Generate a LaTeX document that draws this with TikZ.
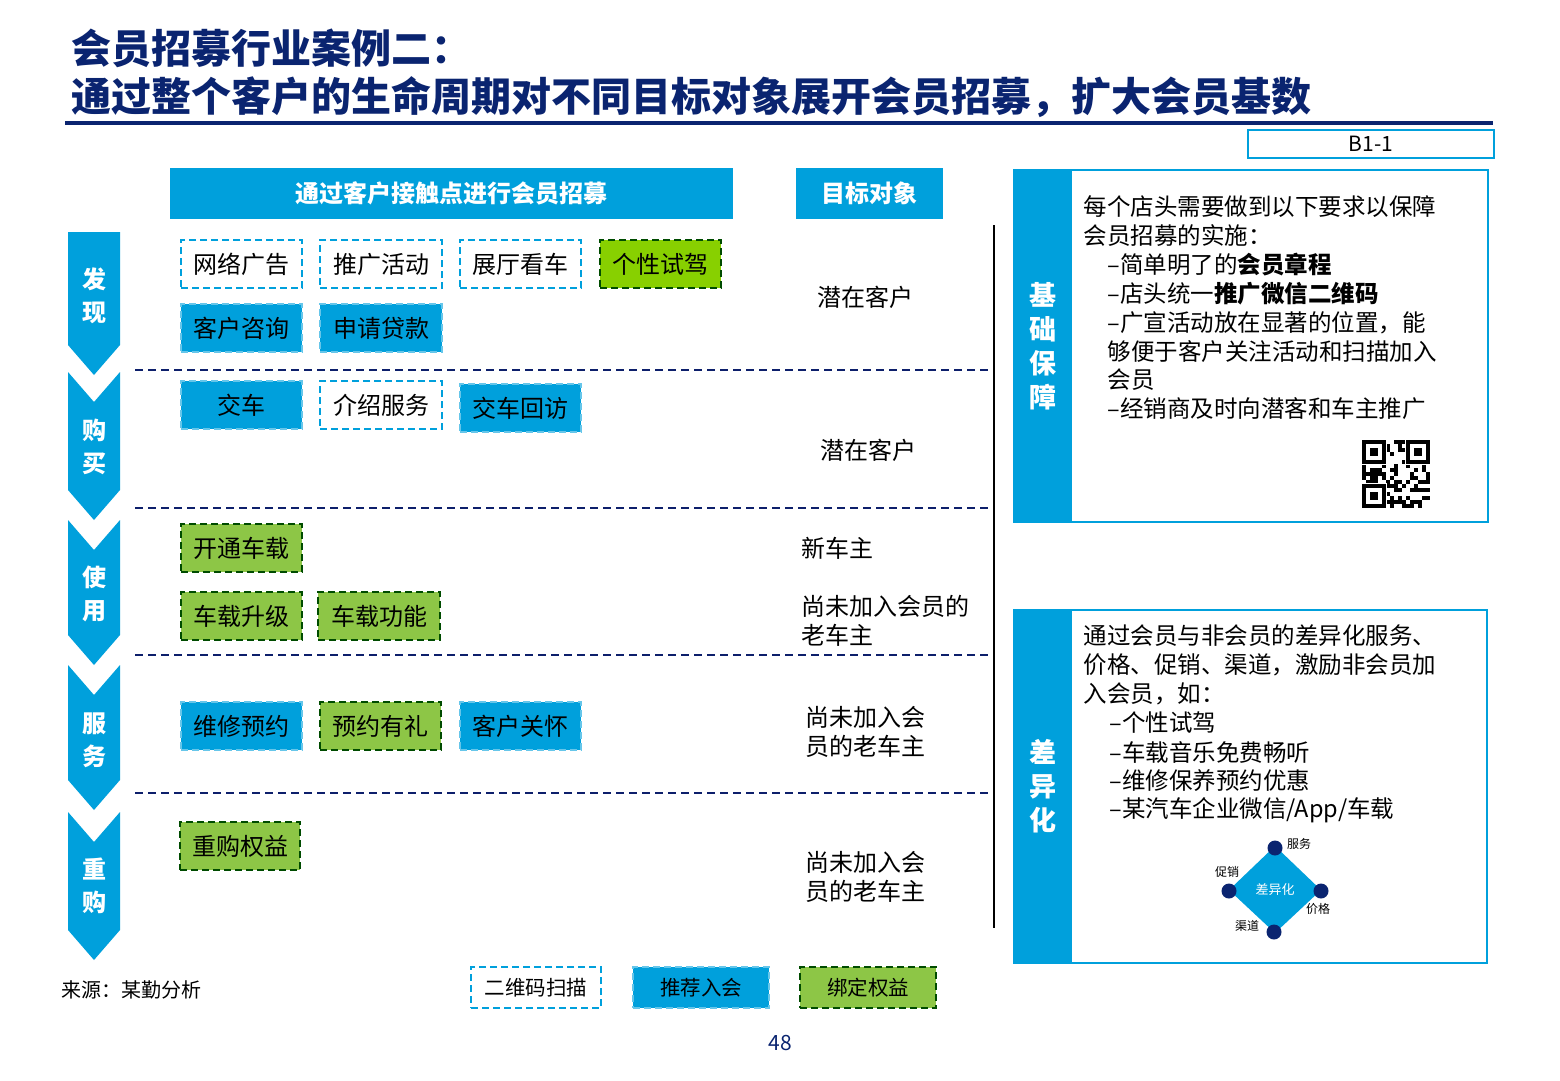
\documentclass[tikz,border=0pt]{standalone}
\usepackage{fontspec}
\setmainfont{Noto Sans CJK SC}
\begin{document}
\begin{tikzpicture}[x=1pt,y=-1pt,
  dsh/.style={dash pattern=on 7pt off 4pt},
  bl/.style={fill=cblue,draw=cblue!60!white,dsh,line width=1.3pt},
  wh/.style={draw=cblue,dsh,line width=1.3pt,fill=white},
  gr/.style={fill=cgreen,draw=green!30!black,dsh,line width=1.3pt},
  gr2/.style={fill=cgreen2,draw=green!30!black,dsh,line width=1.3pt},
  sep/.style={draw=cnavy,dash pattern=on 8pt off 5pt,line width=1.4pt},
  bt/.style={font=\fontsize{24}{28}\selectfont,text=black},
  tt/.style={font=\fontsize{24}{29}\selectfont,anchor=west,text=black},
  pt/.style={font=\fontsize{23.5}{27}\selectfont,anchor=west,text=black},
  side/.style={font=\bfseries\fontsize{24}{33}\selectfont,text=white,align=center}]
\definecolor{cblue}{HTML}{00A0DC}
\definecolor{cnavy}{HTML}{0D1F6B}
\definecolor{cgreen}{HTML}{8DC646}
\definecolor{cgreen2}{HTML}{88D000}
\definecolor{dnavy}{HTML}{0A2470}
\useasboundingbox (0,0) rectangle (1560,1080);
\fill[white] (0,0) rectangle (1560,1080);
% title
\node[anchor=west,text=dnavy,font=\bfseries\fontsize{40}{44}\selectfont] (t1) at (68,48) {会员招募行业案例二：};
\node[anchor=west,text=dnavy,font=\bfseries\fontsize{40}{44}\selectfont] (t2) at (68,97) {通过整个客户的生命周期对不同目标对象展开会员招募，扩大会员基数};
\draw[dnavy,line width=4pt] (65,123) -- (1493,123);
\node[draw=cblue,line width=2pt,minimum width=246pt,minimum height=28pt,inner sep=0,font=\fontsize{21}{22}\selectfont] (b11) at (1371,144) {B1-1};
% headers
\node[fill=cblue,minimum width=563pt,minimum height=51pt,text=white,font=\bfseries\fontsize{24}{28}\selectfont] (h1) at (451.5,193.5) {通过客户接触点进行会员招募};
\node[fill=cblue,minimum width=147pt,minimum height=51pt,text=white,font=\bfseries\fontsize{24}{28}\selectfont] (h2) at (869.5,193.5) {目标对象};
% chevrons
\fill[cblue] (68,232) -- (120,232) -- (120,345) -- (94,375) -- (68,345) -- cycle;
\foreach \a/\b in {372/520, 520/665, 665/810, 812/960}{
  \fill[cblue] (68,\a) -- (94,\a+30) -- (120,\a) -- (120,\b-30) -- (94,\b) -- (68,\b-30) -- cycle;}
\node[side] (s1) at (94,296) {发\\现};
\node[side] (s2) at (94,447) {购\\买};
\node[side] (s3) at (94,594) {使\\用};
\node[side] (s4) at (94,740) {服\\务};
\node[side] (s5) at (94,886) {重\\购};
% separators
\foreach \y in {370,508,655,793} \draw[sep] (135,\y) -- (993,\y);
\draw[black,line width=1.5pt] (994,225) -- (994,928);
% boxes
\newcommand{\bx}[6]{\node[#1,minimum width=#4pt,minimum height=48pt,inner sep=0,bt] (#6) at (#2,#3) {#5};}
\bx{wh}{241.5}{264}{121}{网络广告}{n1}
\bx{wh}{381}{264}{122}{推广活动}{n2}
\bx{wh}{520.5}{264}{121}{展厅看车}{n3}
\bx{gr2}{660.5}{264}{121}{个性试驾}{n4}
\bx{bl}{241.5}{328}{121}{客户咨询}{n5}
\bx{bl}{381}{328}{122}{申请贷款}{n6}
\bx{bl}{241.5}{405}{121}{交车}{n7}
\bx{wh}{381}{405}{122}{介绍服务}{n8}
\bx{bl}{520.5}{408}{121}{交车回访}{n9}
\bx{gr}{241.5}{548}{121}{开通车载}{n10}
\bx{gr}{241.5}{616}{121}{车载升级}{n11}
\bx{gr}{379}{616}{122}{车载功能}{n12}
\bx{bl}{241.5}{726}{121}{维修预约}{n13}
\bx{gr}{380.5}{726}{121}{预约有礼}{n14}
\bx{bl}{520.5}{726}{121}{客户关怀}{n15}
\bx{gr}{240}{846}{120}{重购权益}{n16}
% targets
\node[bt] (g1) at (865,297) {潜在客户};
\node[bt] (g2) at (868,450) {潜在客户};
\node[tt] (g3) at (798,548) {新车主};
\node[tt,align=left] (g4) at (798,621) {尚未加入会员的\\老车主};
\node[tt,align=left] (g5) at (802,732) {尚未加入会\\员的老车主};
\node[tt,align=left] (g6) at (802,877) {尚未加入会\\员的老车主};
% panel 1
\draw[cblue,line width=2pt] (1014,170) rectangle (1488,522);
\fill[cblue] (1014,170) rectangle (1072,522);
\node[side,font=\bfseries\fontsize{27}{34}\selectfont] (p1) at (1043,346) {基\\础\\保\\障};
\node[pt] (l1) at (1080,207) {每个店头需要做到以下要求以保障};
\node[pt] (l2) at (1080,236) {会员招募的实施：};
\node[pt] (l3) at (1104,265) {–简单明了的\textbf{会员章程}};
\node[pt] (l4) at (1104,294) {–店头统一\textbf{推广微信二维码}};
\node[pt] (l5) at (1104,323) {–广宣活动放在显著的位置，能};
\node[pt] (l6) at (1104,352) {够便于客户关注活动和扫描加入};
\node[pt] (l7) at (1104,380) {会员};
\node[pt] (l8) at (1104,409) {–经销商及时向潜客和车主推广};
% QR
\begin{scope}[shift={(1362,440)}]
\pgfmathsetseed{7}
\foreach \i in {0,...,16}{\foreach \j in {0,...,16}{
  \pgfmathparse{rnd>0.5?1:0}\ifnum\pgfmathresult=1 \fill[black] (\i*4,\j*4) rectangle ++(4,4);\fi}}
\foreach \qx/\qy in {0/0,44/0,0/44}{
  \fill[white] (\qx-1,\qy-1) rectangle (\qx+25,\qy+25);
  \fill[black] (\qx,\qy) rectangle (\qx+24,\qy+24);
  \fill[white] (\qx+4,\qy+4) rectangle (\qx+20,\qy+20);
  \fill[black] (\qx+8,\qy+8) rectangle (\qx+16,\qy+16);}
\end{scope}
% panel 2
\draw[cblue,line width=2pt] (1014,610) rectangle (1487,963);
\fill[cblue] (1014,610) rectangle (1072,963);
\node[side,font=\bfseries\fontsize{27}{34}\selectfont] (p2) at (1043,786) {差\\异\\化};
\node[pt] (m1) at (1080,636) {通过会员与非会员的差异化服务、};
\node[pt] (m2) at (1080,665) {价格、促销、渠道，激励非会员加};
\node[pt] (m3) at (1080,694) {入会员，如：};
\node[pt] (m4) at (1106,723) {–个性试驾};
\node[pt] (m5) at (1106,752) {–车载音乐免费畅听};
\node[pt] (m6) at (1106,781) {–维修保养预约优惠};
\node[pt] (m7) at (1106,810) {–某汽车企业微信/App/车载};
% diamond
\coordinate (dc) at (1275,890);
\fill[cblue] (1275,846) -- (1321,890) -- (1275,933) -- (1229,890) -- cycle;
\node[text=white,font=\itshape\fontsize{13}{14}\selectfont] (dt) at (dc) {差异化};
\foreach \qx/\qy in {1275/848,1321/891,1274/932,1229/891}
  \fill[dnavy] (\qx,\qy) circle (7.5pt);
\node[font=\fontsize{12}{13}\selectfont] (w1) at (1299,844) {服务};
\node[font=\fontsize{12}{13}\selectfont] (w2) at (1227,872) {促销};
\node[font=\fontsize{12}{13}\selectfont] (w3) at (1318,909) {价格};
\node[font=\fontsize{12}{13}\selectfont] (w4) at (1247,926) {渠道};
% legend
\node[wh,minimum width=130pt,minimum height=41pt,font=\fontsize{20.5}{22}\selectfont] (k1) at (536,987.5) {二维码扫描};
\node[bl,minimum width=136pt,minimum height=41pt,font=\fontsize{20.5}{22}\selectfont] (k2) at (701,987.5) {推荐入会};
\node[gr,minimum width=136pt,minimum height=41pt,font=\fontsize{20.5}{22}\selectfont] (k3) at (868,987.5) {绑定权益};
\node[anchor=west,font=\fontsize{20}{22}\selectfont] (src) at (58,990) {来源：某勤分析};
\node[text=dnavy,font=\fontsize{21}{22}\selectfont] (pg) at (780,1043) {48};
\end{tikzpicture}
\end{document}
